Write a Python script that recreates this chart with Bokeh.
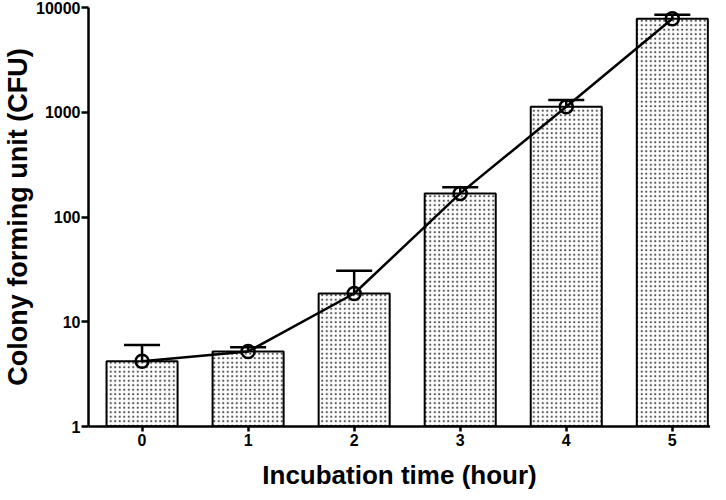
from bokeh.plotting import figure
from bokeh.models import (Range1d, FixedTicker, BasicTickFormatter, Whisker, TeeHead,
                          ColumnDataSource, Title)
from bokeh.embed import file_html
from bokeh.resources import INLINE

# Data
hours = [0, 1, 2, 3, 4, 5]
cfu_mean = [4.2, 5.2, 18.6, 168, 1130, 7820]
cfu_err = [1.8, 0.5, 12.1, 24, 180, 720]
y_ticks = [1, 10, 100, 1000, 10000]
x_title = "Incubation time (hour)"
y_title = "Colony forming unit (CFU)"

upper = [m + e for m, e in zip(cfu_mean, cfu_err)]
src = ColumnDataSource(dict(x=hours, top=cfu_mean, upper=upper))

FONT = "Liberation Sans"

p = figure(width=710, height=498, y_axis_type="log",
           x_range=Range1d(-0.505, 5.36), y_range=Range1d(1, 10000),
           output_backend="svg", toolbar_location=None,
           min_border_top=7, min_border_right=0, min_border_left=0, min_border_bottom=0)
p.outline_line_color = None
p.xgrid.visible = False
p.ygrid.visible = False
p.background_fill_color = "white"

p.vbar(x="x", top="top", bottom=1, width=0.67, source=src,
       fill_color="white", line_color="black", line_width=2,
       hatch_pattern="dot", hatch_scale=4.5, hatch_color="#555555", hatch_weight=1)

w = Whisker(base="x", lower="top", upper="upper", source=src,
            line_color="black", line_width=2.5,
            upper_head=TeeHead(size=36, line_width=2.5, line_color="black"),
            lower_head=None)
p.add_layout(w)

p.line(x="x", y="top", source=src, line_color="black", line_width=2.5)
p.scatter(x="x", y="top", source=src, marker="circle", size=13,
          fill_alpha=0, line_color="black", line_width=2.5)

# axes
p.xaxis.ticker = FixedTicker(ticks=hours)
p.yaxis.ticker = FixedTicker(ticks=y_ticks)
p.xaxis.formatter = BasicTickFormatter(use_scientific=False)
p.yaxis.formatter = BasicTickFormatter(use_scientific=False)
p.yaxis.axis_label = y_title
for ax in (p.xaxis, p.yaxis):
    ax.axis_line_width = 2.5
    ax.axis_line_color = "black"
    ax.major_tick_line_width = 2.5
    ax.major_tick_line_color = "black"
    ax.major_tick_in = 0
    ax.minor_tick_line_color = None
    ax.major_label_text_font = FONT
    ax.major_label_text_font_style = "bold"
    ax.major_label_text_font_size = "16px"
    ax.major_label_text_color = "black"
    ax.axis_label_text_font = FONT
    ax.axis_label_text_font_style = "bold"
    ax.axis_label_text_color = "black"
p.yaxis.axis_label_text_font_size = "27px"
p.xaxis.major_tick_out = 5
p.yaxis.major_tick_out = 7
p.xaxis.major_label_standoff = 2
p.yaxis.major_label_standoff = 1
p.yaxis.axis_label_standoff = 0

# x-axis title as a title panel below the axis
p.add_layout(Title(text=x_title, align="center", text_font=FONT, text_font_style="bold",
                   text_font_size="26px", text_color="black", standoff=18), "below")

open("out.html", "w").write(file_html(p, INLINE))
